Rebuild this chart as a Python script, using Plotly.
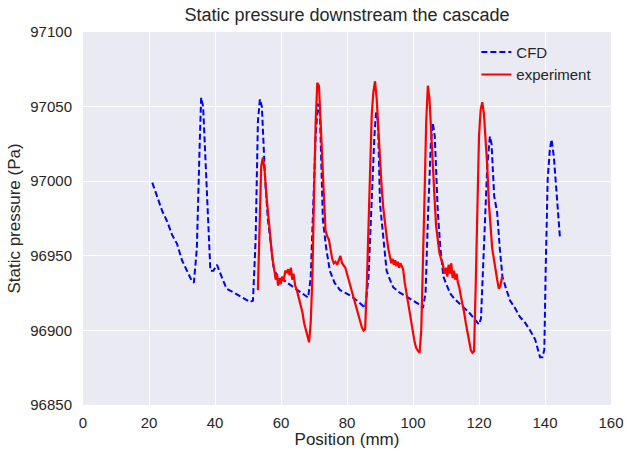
import plotly.graph_objects as go

# CFD (dashed blue)
cfd_x = [21.0, 22.5, 24.0, 25.5, 27.0, 28.5, 30.0, 31.5, 33.0, 33.6, 34.5, 35.3, 35.8, 36.4, 37.2, 38.0, 38.6,
         39.5, 40.6, 42.0, 43.5, 46.0, 48.5, 50.6, 51.5, 52.3, 53.0, 53.6, 54.2, 55.2, 56.0, 56.8, 57.7,
         58.8, 60.6, 62.5, 64.5, 66.5, 68.2, 69.0, 69.8, 70.5, 71.2, 71.8, 72.7, 73.7, 74.8, 76.2, 77.9,
         80.5, 83.0, 85.5, 86.5, 87.5, 88.3, 88.8, 89.4, 90.0, 91.0, 92.0, 93.0, 94.0, 95.5, 97.0, 98.5,
         100.0, 101.5, 103.0, 103.8, 104.6, 105.4, 106.0, 106.6, 107.5, 108.3, 109.2, 110.2, 111.2, 112.6,
         114.0, 115.5, 117.0, 118.5, 120.0, 120.6, 121.5, 122.5, 123.3, 123.8, 124.6, 125.5, 126.3, 127.1,
         128.2, 129.4, 130.9, 132.4, 134.0, 135.5, 137.0, 138.5, 139.2, 139.8, 140.2, 140.8, 141.5, 142.0,
         142.7, 143.5, 144.5]
cfd_y = [96999, 96990, 96980, 96973, 96964, 96958, 96947, 96940, 96933, 96932, 96955, 97020, 97056, 97050,
         97010, 96970, 96940, 96940, 96944, 96936, 96928, 96925, 96922, 96919, 96920, 96960, 97040, 97055,
         97050, 97001, 96975, 96960, 96943, 96936, 96934, 96931, 96928, 96925, 96922, 96935, 96990, 97030,
         97052, 97045, 96974, 96955, 96940, 96932, 96927, 96924, 96920, 96915, 96935, 96990, 97030, 97046,
         97040, 96985, 96960, 96940, 96934, 96929, 96926, 96924, 96922, 96920, 96918, 96915, 96925, 96980,
         97025, 97039, 97030, 96980, 96955, 96936, 96930, 96925, 96921, 96918, 96915, 96912, 96908, 96904,
         96908, 96960, 97010, 97030, 97025, 96990, 96979, 96955, 96936, 96928, 96920, 96915, 96909, 96905,
         96900, 96894, 96882, 96882, 96887, 96940, 97001, 97022, 97028, 97016, 96990, 96963]

# experiment (solid red)
exp_x = [53.0, 53.5, 54.0, 54.5, 55.0, 55.6, 56.2, 56.7, 57.3, 58.0, 58.4, 58.8, 59.1, 59.5, 59.9, 60.3,
         60.8, 61.3, 61.8, 62.2, 62.6, 63.0, 63.4, 63.8, 64.3, 64.8, 65.4, 66.0, 66.5, 67.0, 67.5, 68.0,
         68.5, 69.0, 69.5, 70.0, 70.5, 71.0, 71.5, 72.0, 72.5, 73.0, 73.5, 74.0, 74.5, 75.0, 75.5, 76.0,
         76.5, 77.0, 77.5, 78.0, 78.5, 79.0, 79.5, 80.0, 80.5, 81.0, 81.5, 82.0, 82.5, 83.0, 83.5, 84.0,
         84.5, 85.0, 85.5, 86.0, 86.5, 87.0, 87.5, 88.0, 88.5, 89.0, 89.5, 90.0, 90.5, 91.0, 91.5, 92.0,
         92.5, 93.0, 93.4, 93.8, 94.2, 94.6, 95.0, 95.4, 95.8, 96.2, 96.6, 97.0, 97.5, 98.0, 98.5, 99.0,
         99.5, 100.0, 100.5, 101.0, 101.5, 102.0, 102.5, 103.0, 103.5, 104.0, 104.5, 105.0, 105.5, 106.0,
         106.5, 107.0, 107.5, 108.0, 108.5, 109.0, 109.5, 110.0, 110.4, 110.8, 111.2, 111.6, 112.0, 112.4,
         112.8, 113.2, 113.6, 114.0, 114.5, 115.0, 115.5, 116.0, 116.5, 117.0, 117.5, 118.0, 118.5, 119.0,
         119.5, 120.0, 120.5, 121.0, 121.5, 122.0, 122.5, 123.0, 123.5, 124.0, 124.5, 125.0, 125.5, 126.0,
         126.5, 127.0, 127.5, 128.0, 128.4, 128.8]
exp_y = [96927, 96980, 97010, 97016, 97008, 96990, 96975, 96963, 96950, 96940, 96934, 96938, 96930, 96935,
         96931, 96936, 96933, 96940, 96939, 96941, 96937, 96942, 96934, 96938, 96930, 96927, 96922, 96916,
         96912, 96905, 96900, 96895, 96892, 96905, 96935, 96990, 97040, 97066, 97064, 97040, 97008, 96990,
         96967, 96963, 96961, 96955, 96948, 96945, 96946, 96944, 96947, 96950, 96945, 96943, 96942, 96938,
         96934, 96930, 96925, 96921, 96918, 96914, 96910, 96906, 96902, 96900, 96901, 96930, 96975, 97020,
         97045, 97060, 97067, 97055, 97035, 97010, 96996, 96982, 96970, 96963, 96955, 96950, 96945, 96948,
         96944, 96947, 96943, 96946, 96942, 96945, 96943, 96941, 96932, 96925, 96918, 96910, 96903, 96898,
         96892, 96888, 96886, 96885, 96900, 96940, 96990, 97040, 97064, 97055, 97030, 97010, 96990, 96970,
         96959, 96952, 96948, 96945, 96938, 96942, 96936, 96944, 96938, 96945, 96935, 96940, 96934, 96938,
         96932, 96929, 96923, 96918, 96912, 96905, 96898, 96892, 96887, 96885, 96886, 96930, 96990, 97030,
         97048, 97053, 97045, 97030, 97010, 96985, 96968, 96955, 96948, 96940, 96934, 96928, 96930, 96936]

fig = go.Figure()

fig.add_trace(go.Scatter(x=cfd_x, y=cfd_y, mode="lines", name="CFD",
                         line=dict(color="#0000ff", width=2, dash="6px,3px")))
fig.add_trace(go.Scatter(x=exp_x, y=exp_y, mode="lines", name="experiment",
                         line=dict(color="#ff0000", width=2.2)))

fig.update_layout(width=626, height=449,
                  margin=dict(l=83, r=15, t=32, b=44),
                  paper_bgcolor="white",
                  plot_bgcolor="#EAEAF2",
                  font=dict(family="Liberation Sans, Arial, sans-serif", size=15, color="#262626"),
                  title=dict(text="Static pressure downstream the cascade", x=0.5, xref="paper",
                             y=1, yref="container", yanchor="top", pad=dict(t=8),
                             font=dict(size=18, color="#262626")),
                  legend=dict(x=0.745, y=0.99, xanchor="left", yanchor="top",
                              bgcolor="rgba(0,0,0,0)", font=dict(size=15), itemwidth=30,
                              tracegroupgap=0),
                  showlegend=True)

fig.update_xaxes(range=[0, 160], dtick=20, showgrid=True, gridcolor="white", gridwidth=1,
                 zeroline=False, ticks="outside", ticklen=4, tickcolor="rgba(0,0,0,0)",
                 automargin=False,
                 title=dict(text="Position (mm)", font=dict(size=17), standoff=2))
fig.update_yaxes(range=[96850, 97100], dtick=50, showgrid=True, gridcolor="white", gridwidth=1,
                 zeroline=False, ticks="outside", ticklen=7, tickcolor="rgba(0,0,0,0)",
                 tickformat="d", automargin=False,
                 title=dict(text="Static pressure (Pa)", font=dict(size=17), standoff=5))

# the page has a default 8px body margin; drop it so the figure fills the window
fig.write_html("out.html", config={"displayModeBar": False},
               post_script="document.body.style.margin='0px';")
